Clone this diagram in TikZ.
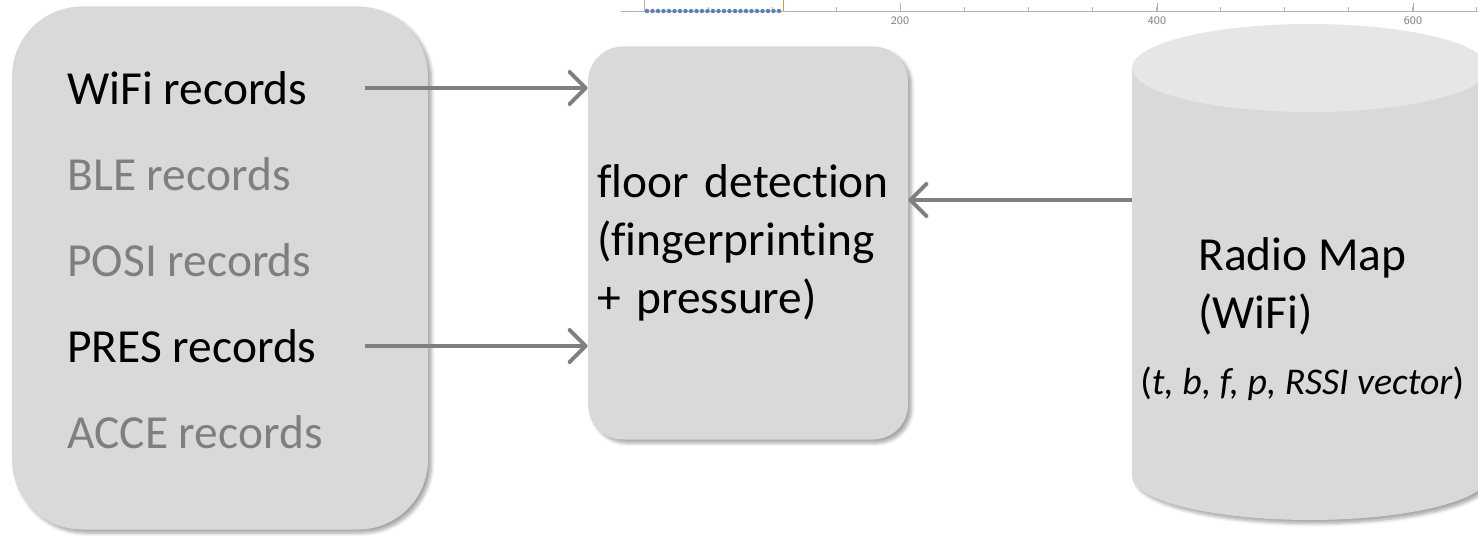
\documentclass[tikz,border=0pt]{standalone}
\usepackage{fontspec}
\setmainfont{Carlito}[Ligatures=NoCommon]
\usetikzlibrary{shapes, arrows.meta, positioning, shadows.blur}
\definecolor{boxgray}{HTML}{D9D9D9}
\definecolor{topgray}{HTML}{E6E6E6}
\definecolor{arrowgray}{HTML}{7F7F7F}
\definecolor{plotblue}{HTML}{5E81B5}
\definecolor{plotorange}{HTML}{E19C24}
\tikzstyle{panel} = [fill=boxgray, rectangle, blur shadow={shadow xshift=2pt, shadow yshift=-2pt, shadow blur steps=6, shadow opacity=35}]
\tikzstyle{rec} = [anchor=west, inner sep=0pt, font=\fontsize{27}{33}\selectfont]
\tikzstyle{flow} = [arrowgray, line width=0.8mm, -{Straight Barb[length=3.2mm, width=6.4mm, line cap=round, line join=round]}]

\begin{document}
\begin{tikzpicture}[x=0.2mm, y=-0.2mm]
    \useasboundingbox (0,0) rectangle (1478,539);
    \clip (0,0) rectangle (1478,539);
    % piece of a plot axis at the top
    \draw[gray!60] (621,11) -- (1478,11);
    \draw[gray!60] (644,0) -- (644,11);
    \foreach \x in {708,772,...,1478}
        \draw[gray!60] (\x,11) -- (\x,7);
    \foreach \x/\v in {900/200, 1157/400, 1413/600} {
        \draw[gray!60] (\x,11) -- (\x,3);
        \node[font=\sffamily\fontsize{6.5}{7}\selectfont, text=gray] (tick\v) at (\x,21) {\v};
    }
    \foreach \i in {0,...,24}
        \fill[plotblue] ({647+5.5*\i},11) circle[radius=0.45mm];
    \draw[plotorange] (783,0) -- (783,11);
    % boxes
    \node[panel, rounded corners=14mm, minimum width=8.32cm, minimum height=10.46cm] (log) at (220,268) {};
    \node[panel, rounded corners=7mm, minimum width=6.4cm, minimum height=7.86cm, text width=6.04cm, inner sep=1.8mm, align=left, font=\fontsize{27}{33}\selectfont] (floor) at (748,243) {floor detection\\(fingerprinting\\+ pressure)};
    % radio map
    \fill[boxgray, blur shadow={shadow xshift=2pt, shadow yshift=-2pt, shadow blur steps=6, shadow opacity=35}] (1132,68) -- (1132,476) arc[start angle=180, end angle=360, x radius=35.6mm, y radius=8.8mm] -- (1488,68) -- cycle;
    \fill[topgray] (1310,68) ellipse[x radius=35.6mm, y radius=8.8mm];
    \coordinate (dbside) at (1132,200);
    \node[rec, align=left] (map) at (1198,286) {Radio Map\\(WiFi)};
    \node[rec, font=\fontsize{21.5}{26}\selectfont] (vec) at (1140,384) {(\textit{t, b, f, p, RSSI vector})};
    % records
    \node[rec] (wifi) at (67,88) {WiFi records};
    \node[rec, text=arrowgray, below=1.72cm of wifi.west, anchor=west] (ble) {BLE records};
    \node[rec, text=arrowgray, below=1.72cm of ble.west, anchor=west] (posi) {POSI records};
    \node[rec, below=1.72cm of posi.west, anchor=west] (pres) {PRES records};
    \node[rec, text=arrowgray, below=1.72cm of pres.west, anchor=west] (acce) {ACCE records};
    % arrows
    \draw[flow, shorten <=11.4mm] (wifi.east) -- (wifi.east -| floor.west);
    \draw[flow, shorten <=9.6mm] (pres.east) -- (pres.east -| floor.west);
    \draw[flow] (dbside) -- (dbside -| floor.east);
\end{tikzpicture}
\end{document}
